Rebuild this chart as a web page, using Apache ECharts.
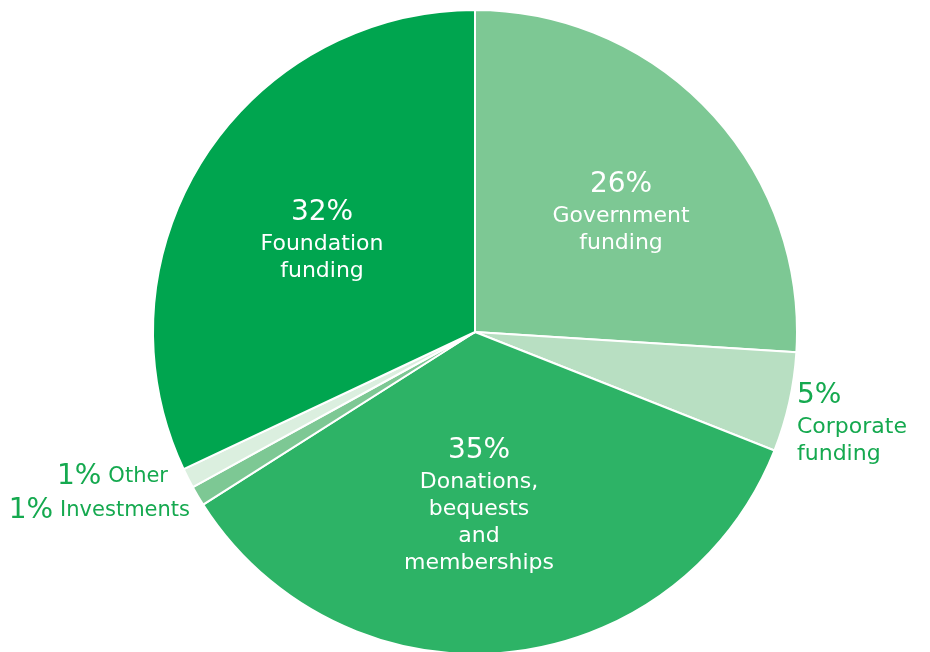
<!DOCTYPE html>
<html>
<head>
<meta charset="utf-8">
<script src="https://cdn.jsdelivr.net/npm/echarts@6/dist/echarts.min.js"></script>
<style>
html,body{margin:0;padding:0;background:#fff;}
#chart{width:930px;height:652px;}
</style>
</head>
<body>
<div id="chart"></div>
<script>
// Data
const categories = ['Government funding', 'Corporate funding', 'Donations, bequests and memberships', 'Investments', 'Other', 'Foundation funding'];
const labelNames = ['Government\nfunding', 'Corporate\nfunding', 'Donations,\nbequests\nand\nmemberships', 'Investments', 'Other', 'Foundation\nfunding'];
const values = [26, 5, 35, 1, 1, 32];

// Styles
const colors = ['#7dc894', '#b8dfc2', '#2db366', '#7dc894', '#dbefdf', '#00a54f'];
const outsideColor = '#15a94f';
const FONT = 'DejaVu Sans';
const labelPlacement = [
  { x: 621, y: 212, align: 'center', inside: true },
  { x: 797, y: 423, align: 'left', inside: false },
  { x: 479, y: 505, align: 'center', inside: true },
  { x: 190, y: 511, align: 'right', inside: false, oneLine: true },
  { x: 168, y: 477, align: 'right', inside: false, oneLine: true },
  { x: 322, y: 240, align: 'center', inside: true }
];

const chart = echarts.init(document.getElementById('chart'), null, { renderer: 'canvas' });

const data = categories.map((c, i) => {
  const pl = labelPlacement[i];
  const col = pl.inside ? '#ffffff' : outsideColor;
  return {
    name: c,
    value: values[i],
    itemStyle: { color: colors[i] },
    label: {
      show: true,
      position: pl.inside ? 'inside' : 'outside',
      formatter: pl.oneLine ? '{p|' + values[i] + '%}{n|' + labelNames[i] + '}' : '{p|' + values[i] + '%}\n{n|' + labelNames[i] + '}',
      align: pl.align,
      rich: {
        p: { fontSize: 28, color: col, fontFamily: FONT, lineHeight: 36, align: pl.align },
        n: { fontSize: pl.oneLine ? 21 : 22, color: col, fontFamily: FONT, lineHeight: 27, align: pl.align, padding: pl.oneLine ? [0, 0, 0, 7] : 0 }
      }
    },
    labelLine: { show: false }
  };
});

chart.setOption({
  animation: false,
  backgroundColor: '#ffffff',
  series: [{
    type: 'pie',
    center: [475, 332],
    radius: [0, 322],
    startAngle: 90,
    clockwise: true,
    avoidLabelOverlap: false,
    itemStyle: { borderColor: '#ffffff', borderWidth: 2 },
    emphasis: { disabled: true },
    labelLine: { show: false },
    labelLayout: function (params) {
      const pl = labelPlacement[params.dataIndex];
      return { x: pl.x, y: pl.y, align: pl.align, verticalAlign: 'middle', moveOverlap: null };
    },
    data: data
  }]
});
</script>
</body>
</html>
